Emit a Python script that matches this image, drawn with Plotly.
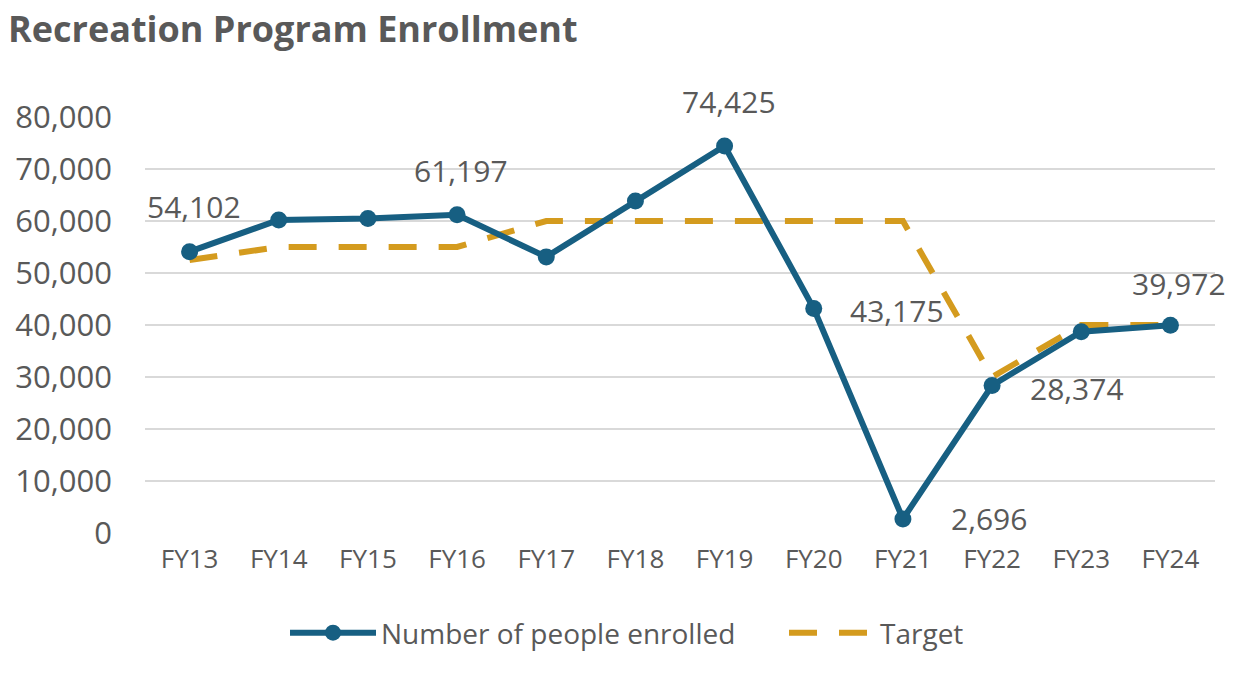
import plotly.graph_objects as go

categories = ["FY13", "FY14", "FY15", "FY16", "FY17", "FY18", "FY19", "FY20", "FY21", "FY22", "FY23", "FY24"]
enrolled = [54102, 60200, 60500, 61197, 53100, 63850, 74425, 43175, 2696, 28374, 38700, 39972]
target = [52500, 55000, 55000, 55000, 60000, 60000, 60000, 60000, 60000, 30000, 40000, 40000]
y_ticks = [0, 10000, 20000, 30000, 40000, 50000, 60000, 70000, 80000]

# which points get a data label and where (xshift, yshift in px)
label_idx = [0, 3, 6, 7, 8, 9, 11]
label_shift = {0: (4, 45), 3: (4, 44), 6: (4, 44), 7: (83, -2), 8: (86, 0), 9: (85, -3), 11: (9, 42)}

BLUE = "#175F82"
GOLD = "#D49B1E"
GREY = "#595959"
FONT = "Open Sans"

W, H = 1246, 677

fig = go.Figure()
fig.add_trace(go.Scatter(
    x=categories, y=target, name="Target", mode="lines",
    line=dict(color=GOLD, width=6, dash="28px,22px"),
))
fig.add_trace(go.Scatter(
    x=categories, y=enrolled, name="Number of people enrolled" + "\u00a0" * 6,
    mode="lines+markers",
    line=dict(color=BLUE, width=6),
    marker=dict(color=BLUE, size=17),
))

annotations = []
for i in label_idx:
    dx, dy = label_shift[i]
    annotations.append(dict(
        x=categories[i], y=enrolled[i], xref="x", yref="y",
        text=f"{enrolled[i]:,}", showarrow=False,
        xshift=dx, yshift=dy, xanchor="center", yanchor="middle",
        font=dict(family=FONT, size=30, color=GREY),
    ))

fig.update_layout(
    width=W, height=H,
    margin=dict(l=145, r=31, t=117, b=144, autoexpand=False),
    paper_bgcolor="white", plot_bgcolor="white",
    title=dict(
        text="<b>Recreation Program Enrollment</b>",
        xref="container", yref="container", x=8 / W, xanchor="left",
        y=1 - 29 / H, yanchor="middle",
        font=dict(family=FONT, size=36, color=GREY),
    ),
    xaxis=dict(
        type="category", categoryorder="array", categoryarray=categories,
        showgrid=False, showline=False, ticks="",
        tickfont=dict(family=FONT, size=26, color=GREY),
        range=[-0.5, len(categories) - 0.5],
        ticklabelstandoff=8,
    ),
    yaxis=dict(
        range=[0, 80000], tickvals=y_ticks, tickformat=",",
        showgrid=True, gridcolor="#D9D9D9", gridwidth=1.5,
        zeroline=False, showline=False, ticks="",
        tickfont=dict(family=FONT, size=31, color=GREY),
        ticklabelstandoff=32,
    ),
    legend=dict(
        orientation="h", xref="container", yref="container",
        x=285 / W, xanchor="left", y=1 - 633 / H, yanchor="middle",
        traceorder="reversed", itemwidth=86,
        font=dict(family=FONT, size=28, color=GREY),
    ),
    annotations=annotations,
    showlegend=True,
)

# remove the browser's default 8px body margin so the figure sits at (0, 0)
fig.write_html(
    "out.html",
    config={"displayModeBar": False},
    post_script="document.body.style.margin='0';",
)
